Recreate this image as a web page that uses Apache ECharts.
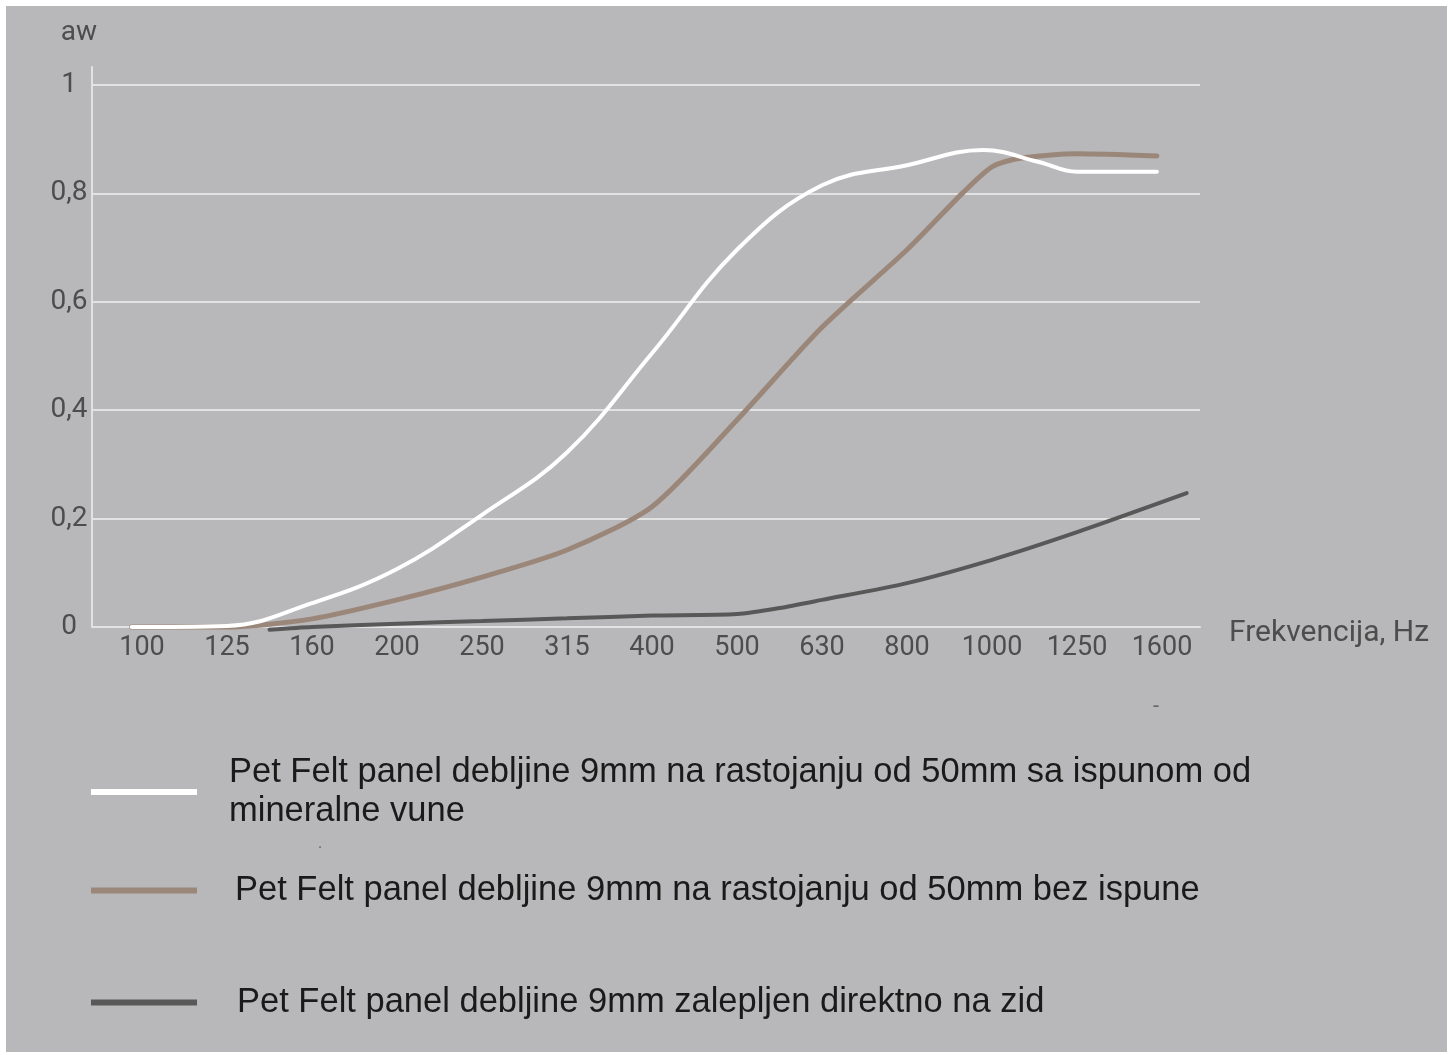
<!DOCTYPE html>
<html><head><meta charset="utf-8">
<script src="https://cdn.jsdelivr.net/npm/echarts@6/dist/echarts.min.js"></script>
<style>html,body{margin:0;padding:0;background:#fff}#c{width:1452px;height:1055px}</style>
</head><body><div id="c"></div>
<script>
// Frequency bands (Hz) on the x axis; points are placed by band index (fractional where read between bands)
const categories = ['100','125','160','200','250','315','400','500','630','800','1000','1250','1600'];
const yTickLabels = ['0','0,2','0,4','0,6','0,8','1'];

const seriesNames = [
  'Pet Felt panel debljine 9mm na rastojanju od 50mm sa ispunom od mineralne vune',
  'Pet Felt panel debljine 9mm na rastojanju od 50mm bez ispune',
  'Pet Felt panel debljine 9mm zalepljen direktno na zid'
];
const legendLabels = [
  'Pet Felt panel debljine 9mm na rastojanju od 50mm sa ispunom od\nmineralne vune',
  'Pet Felt panel debljine 9mm na rastojanju od 50mm bez ispune',
  'Pet Felt panel debljine 9mm zalepljen direktno na zid'
];

const whiteX = [-0.12, 1, 2, 3, 4, 5, 6, 7, 8, 9, 9.9, 10.55, 11, 11.94];
const whiteY = [0, 0.002, 0.044, 0.107, 0.207, 0.322, 0.505, 0.696, 0.815, 0.852, 0.880, 0.858, 0.840, 0.840];

const brownX = [-0.12, 1, 2, 3, 4, 5, 6, 7, 8, 9, 9.65, 10, 10.33, 11, 11.94];
const brownY = [0, 0, 0.015, 0.05, 0.092, 0.142, 0.222, 0.382, 0.553, 0.696, 0.80, 0.849, 0.865, 0.873, 0.869];

const darkX = [1.5, 2, 3, 4, 5, 6, 7, 7.5, 8, 9, 10, 11, 12.29];
const darkY = [-0.005, 0.0, 0.006, 0.011, 0.016, 0.021, 0.024, 0.035, 0.05, 0.081, 0.124, 0.175, 0.247];

const colors = ['#ffffff', '#9b8779', '#585858'];
const widths = [4, 5, 4];
const smoothness = [0.4, 0.25, 0.25];
const legendTops = [753, 871, 983];
const legendTextPad = [27, 33, 35];

const pairs = (xs, ys) => xs.map((x, i) => [x, ys[i]]);
const seriesData = [pairs(whiteX, whiteY), pairs(brownX, brownY), pairs(darkX, darkY)];

const font = { fontFamily: 'Roboto', color: '#4d4d4d' };
const gridColor = '#e2e2e2';

const chart = echarts.init(document.getElementById('c'));
chart.setOption({
  backgroundColor: '#b8b8ba',
  animation: false,
  grid: [
    { left: 92, right: 252, top: 85, bottom: 428 },
    { left: 92, right: 252, top: 67, bottom: 428 }
  ],
  xAxis: [
    {
      type: 'value', gridIndex: 0, min: -0.588, max: 12.447,
      axisLine: { show: true, lineStyle: { color: gridColor, width: 2 } },
      axisTick: { show: false },
      splitLine: { show: false },
      axisLabel: Object.assign({
        customValues: categories.map((_, i) => i),
        formatter: v => categories[Math.round(v)],
        margin: 8, fontSize: 27
      }, font),
      name: 'Frekvencija, Hz', nameLocation: 'end', nameGap: 29,
      nameTextStyle: Object.assign({ verticalAlign: 'top', lineHeight: 12, fontSize: 30 }, font)
    },
    { type: 'value', gridIndex: 1, show: false, min: 0, max: 1 }
  ],
  yAxis: [
    {
      type: 'value', gridIndex: 0, min: 0, max: 1, interval: 0.2,
      axisLine: { show: false }, axisTick: { show: false },
      splitLine: { show: true, lineStyle: { color: gridColor, width: 2 } },
      axisLabel: Object.assign({
        formatter: v => yTickLabels[Math.round(v / 0.2)],
        margin: 23, align: 'center', fontSize: 28
      }, font)
    },
    {
      type: 'value', gridIndex: 1, min: 0, max: 1,
      axisLine: { show: true, lineStyle: { color: gridColor, width: 2 } },
      axisTick: { show: false }, axisLabel: { show: false }, splitLine: { show: false },
      name: 'aw', nameLocation: 'end', nameGap: 20,
      nameTextStyle: Object.assign({ padding: [0, 26, 0, 0], align: 'center', fontSize: 28 }, font)
    }
  ],
  legend: seriesNames.map((n, i) => ({
    data: [n], left: 91, top: legendTops[i], orient: 'vertical', padding: 0,
    itemWidth: 106, itemHeight: 6, icon: 'rect', selectedMode: false,
    formatter: () => legendLabels[i],
    textStyle: { fontFamily: 'Liberation Sans, Arial', fontSize: 34.5, color: '#1a1a1a', lineHeight: 39, padding: [0, 0, 0, legendTextPad[i]] }
  })),
  series: seriesNames.map((n, i) => ({
    name: n, type: 'line', xAxisIndex: 0, yAxisIndex: 0,
    data: seriesData[i], smooth: smoothness[i], showSymbol: false, clip: false,
    itemStyle: { color: colors[i] },
    lineStyle: { color: colors[i], width: widths[i], cap: 'round' },
    z: 3 - i
  })),
  graphic: [
    { type: 'rect', shape: { x: 0, y: 0, width: 1452, height: 6 }, style: { fill: '#ffffff' }, z: 100 },
    { type: 'rect', shape: { x: 0, y: 0, width: 6, height: 1055 }, style: { fill: '#ffffff' }, z: 100 },
    { type: 'rect', shape: { x: 1447, y: 0, width: 5, height: 1055 }, style: { fill: '#ffffff' }, z: 100 },
    { type: 'rect', shape: { x: 0, y: 1052, width: 1452, height: 3 }, style: { fill: '#ffffff' }, z: 100 },
    { type: 'text', left: 1153, top: 696, style: { text: '-', font: '22px Roboto', fill: '#666' } },
    { type: 'text', left: 318, top: 836, style: { text: '.', font: '16px Roboto', fill: '#666' } }
  ]
});
</script>
</body></html>
